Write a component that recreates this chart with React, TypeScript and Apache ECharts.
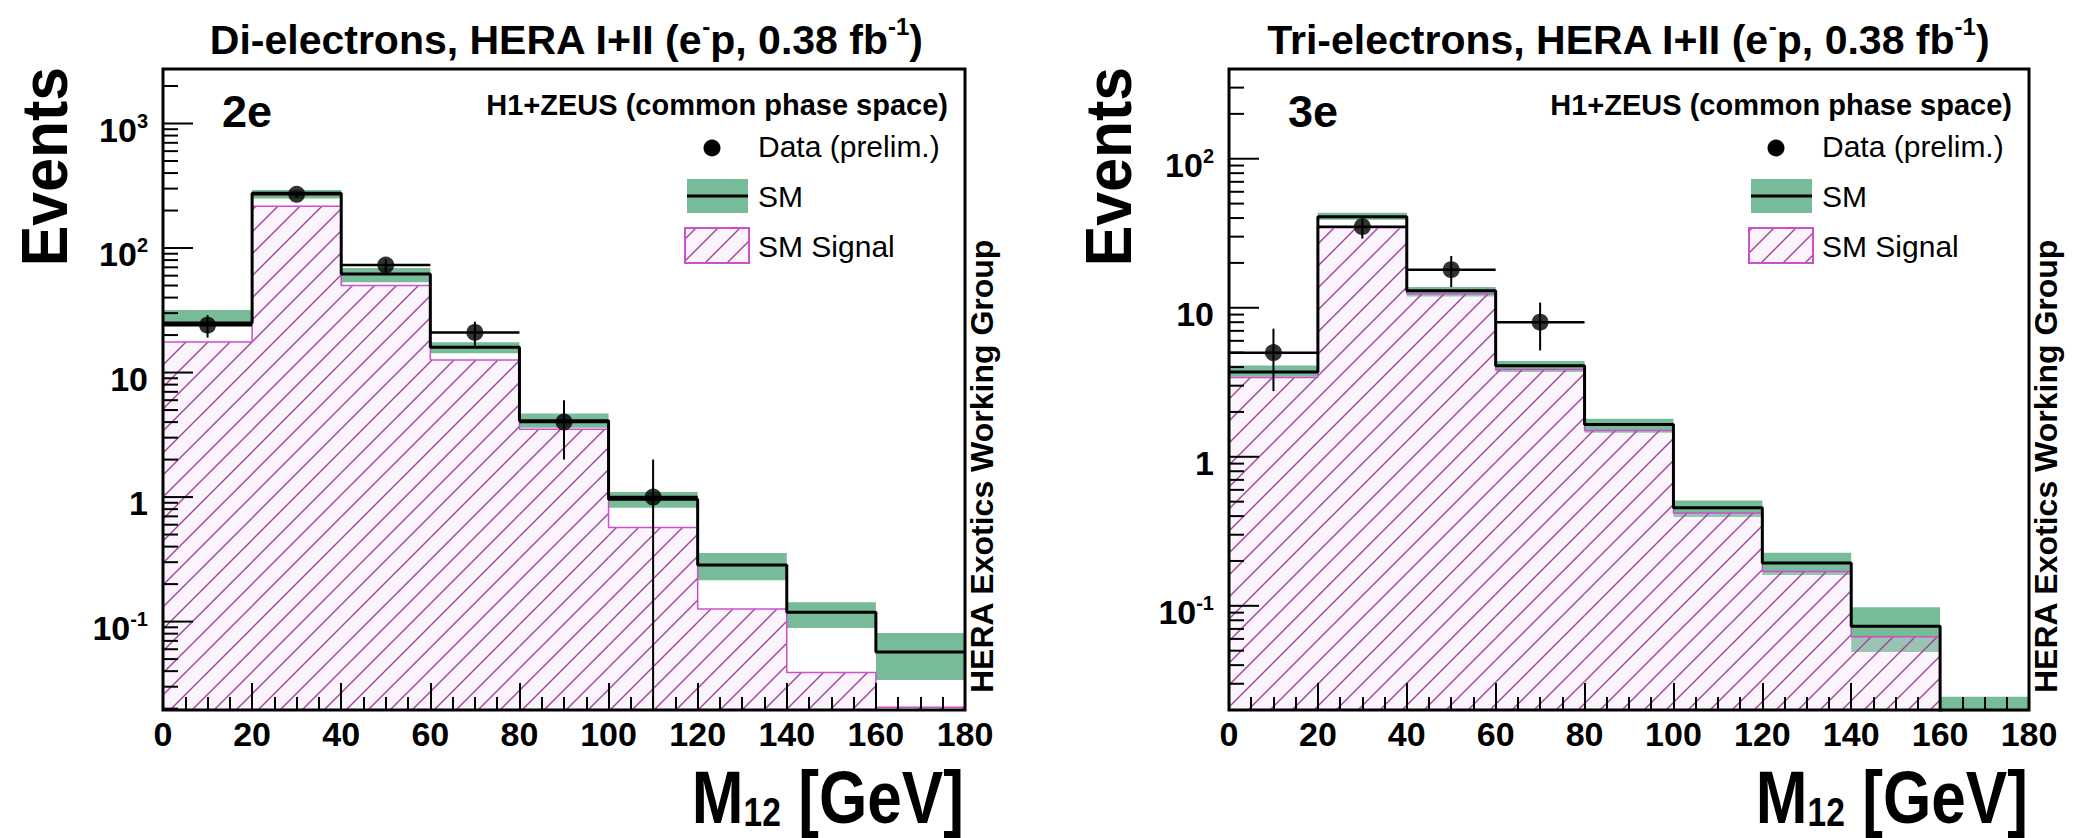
import React, { useEffect, useRef } from "react";
import * as echarts from "echarts";

const FONT = "'Liberation Sans', Arial, Helvetica, sans-serif";

// ---- bins (M12 in GeV) ----
const binLow = [0, 20, 40, 60, 80, 100, 120, 140, 160];
const binWidth = 20;
const xMax = 180;

// ---- Di-electrons (2e) ----
const sm2e = [25, 275, 62, 16, 4.1, 0.96, 0.285, 0.119, 0.057];
const smLow2e = [23.6, 250, 53, 14.3, 3.6, 0.82, 0.215, 0.089, 0.034];
const smHigh2e = [31.8, 292, 69, 17.5, 4.7, 1.1, 0.355, 0.143, 0.081];
const signal2e = [17.6, 217, 50, 12.6, 3.5, 0.57, 0.126, 0.039, 0.0205];
const data2e = [24, 270, 73, 21, 4, 1];
const dataLow2e = [19.1, 253.6, 64.5, 16.4, 2, 0];
const dataHigh2e = [28.9, 286.4, 81.5, 25.6, 6, 2];

// ---- Tri-electrons (3e) ----
const sm3e = [3.7, 40.8, 13.0, 4.08, 1.65, 0.455, 0.194, 0.073, 0.019];
const smLow3e = [3.45, 38.9, 11.9, 3.7, 1.45, 0.395, 0.161, 0.049, 0.015];
const smHigh3e = [4.1, 43.4, 13.8, 4.4, 1.8, 0.51, 0.227, 0.098, 0.0245];
const signal3e = [3.4, 34.4, 12.4, 3.85, 1.5, 0.42, 0.17, 0.062, 0.018];
const data3e = [5, 35, 18, 8];
const dataLow3e = [2.76, 29.1, 13.76, 5.17];
const dataHigh3e = [7.24, 40.9, 22.24, 10.83];

// ---- y tick labels (decade exponent -> label) ----
const decadeLabels: Record<string, string> = {
  "-1": "{b|10}{s|-1}",
  "0": "{b|1}",
  "1": "{b|10}",
  "2": "{b|10}{s|2}",
  "3": "{b|10}{s|3}",
};

const GREEN = "#78bb98";
const HATCH = "#9c469c";
const PINK = "#cc4fcc";
const TINT = "rgba(245,215,245,0.28)";

const panels = [
  {
    left: 163, width: 802, yMin: 0.0195, yMax: 2740,
    titleX: 566, tag: "2e",
    titleText: "{t|Di-electrons, HERA I+II (e}{s|-}{t|p, 0.38 fb}{s|-1}{t|)}",
    sm: sm2e, smLow: smLow2e, smHigh: smHigh2e, signal: signal2e,
    data: data2e, dataLow: dataLow2e, dataHigh: dataHigh2e,
    eventsX: 44.5,
  },
  {
    left: 1229, width: 800, yMin: 0.02, yMax: 400,
    titleX: 1628, tag: "3e",
    titleText: "{t|Tri-electrons, HERA I+II (e}{s|-}{t|p, 0.38 fb}{s|-1}{t|)}",
    sm: sm3e, smLow: smLow3e, smHigh: smHigh3e, signal: signal3e,
    data: data3e, dataLow: dataLow3e, dataHigh: dataHigh3e,
    eventsX: 1108.5,
  },
];

const GRID_TOP = 69;
const GRID_H = 641;

function hatchSegments(x0: number, y0: number, x1: number, y1: number, sp: number) {
  const segs: any[] = [];
  const cStart = Math.ceil((x0 + y0) / sp) * sp;
  for (let c = cStart; c <= x1 + y1; c += sp) {
    const xa = Math.max(x0, c - y1);
    const xb = Math.min(x1, c - y0);
    if (xb - xa > 0.5) segs.push({ x1: xa, y1: c - xa, x2: xb, y2: c - xb });
  }
  return segs;
}

function stepData(values: number[]) {
  const pts = binLow.map((x, k) => [x, values[k]]);
  pts.push([xMax, values[values.length - 1]]);
  return pts;
}

function yTickValues(min: number, max: number) {
  const out: number[][] = [];
  for (let e = -2; e <= 3; e++) {
    for (let m = 1; m <= 9; m++) {
      const v = m * Math.pow(10, e);
      if (v > min * 1.0001 && v < max * 0.9999) out.push([0, v, m === 1 ? 1 : 0]);
    }
  }
  return out;
}

function clampY(y: number, cs: any) {
  return Math.max(cs.y, Math.min(cs.y + cs.height, y));
}

const bandRender = (params: any, api: any) => {
  const cs = params.coordSys;
  const a = api.coord([api.value(0), api.value(3)]);
  const b = api.coord([api.value(1), api.value(2)]);
  const y0 = clampY(a[1], cs);
  const y1 = clampY(b[1], cs);
  if (y1 - y0 < 0.5) return { type: "group", children: [] };
  return {
    type: "rect",
    shape: { x: a[0], y: y0, width: b[0] - a[0], height: y1 - y0 },
    style: { fill: GREEN },
  };
};

const hatchRender = (params: any, api: any) => {
  const cs = params.coordSys;
  const a = api.coord([api.value(0), api.value(2)]);
  const b = api.coord([api.value(1), api.value(2)]);
  const bottom = cs.y + cs.height;
  const top = clampY(a[1], cs);
  if (bottom - top < 0.5) return { type: "group", children: [] };
  const children: any[] = [
    { type: "rect", shape: { x: a[0], y: top, width: b[0] - a[0], height: bottom - top }, style: { fill: TINT } },
  ];
  hatchSegments(a[0], top, b[0], bottom, 22).forEach((s) =>
    children.push({ type: "line", shape: s, style: { stroke: HATCH, lineWidth: 1.4 } })
  );
  return { type: "group", children };
};

const errRender = (params: any, api: any) => {
  const cs = params.coordSys;
  const x = api.value(0);
  const v = api.value(1);
  const lo = api.value(2);
  const hi = api.value(3);
  const c = api.coord([x, v]);
  const yHi = clampY(api.coord([x, hi])[1], cs);
  const yLo = lo > 0 ? clampY(api.coord([x, lo])[1], cs) : cs.y + cs.height;
  const xl = api.coord([x - binWidth / 2, v])[0];
  const xr = api.coord([x + binWidth / 2, v])[0];
  return {
    type: "group",
    children: [
      { type: "line", shape: { x1: c[0], y1: yHi, x2: c[0], y2: yLo }, style: { stroke: "#000", lineWidth: 2 } },
      { type: "line", shape: { x1: xl, y1: c[1], x2: xr, y2: c[1] }, style: { stroke: "#000", lineWidth: 2.5 } },
    ],
  };
};

const tickRender = (params: any, api: any) => {
  const cs = params.coordSys;
  const p = api.coord([0, api.value(1)]);
  const len = api.value(2) ? 30 : 15;
  return {
    type: "line",
    shape: { x1: cs.x, y1: p[1], x2: cs.x + len, y2: p[1] },
    style: { stroke: "#000", lineWidth: 2 },
  };
};

function text(x: number, y: number, str: string, o: any = {}) {
  const align = o.align || "left";
  return {
    type: "text",
    x, y,
    rotation: o.rotation || 0,
    scaleX: o.scaleX || 1,
    z: 20,
    silent: true,
    style: {
      text: str,
      fill: "#000",
      fontSize: o.fontSize || 30,
      fontWeight: o.fontWeight || "normal",
      fontFamily: FONT,
      align, verticalAlign: "middle",
      textAlign: align, textVerticalAlign: "middle",
      rich: o.rich,
    },
  };
}

function buildOption() {
  const series: any[] = [];
  const graphics: any[] = [];

  panels.forEach((p, i) => {
    const common = { xAxisIndex: i, yAxisIndex: i, silent: true, animation: false };
    series.push({
      ...common, type: "custom", name: "SM band", z: 2, encode: { x: [0, 1], y: [2, 3] },
      data: binLow.map((x, k) => [x, x + binWidth, p.smLow[k], p.smHigh[k]]),
      renderItem: bandRender,
    });
    series.push({
      ...common, type: "custom", name: "SM Signal", z: 3, encode: { x: [0, 1], y: 2 },
      data: binLow.map((x, k) => [x, x + binWidth, p.signal[k]]),
      renderItem: hatchRender,
    });
    series.push({
      ...common, type: "line", name: "SM Signal outline", z: 4, step: "end", symbol: "none", clip: true,
      data: stepData(p.signal), lineStyle: { color: PINK, width: 1.5 },
    });
    series.push({
      ...common, type: "line", name: "SM", z: 5, step: "end", symbol: "none", clip: true,
      data: stepData(p.sm), lineStyle: { color: "#000", width: 3 },
    });
    series.push({
      ...common, type: "custom", name: "Data errors", z: 6, encode: { x: 0, y: 1 },
      data: p.data.map((v, k) => [binLow[k] + binWidth / 2, v, p.dataLow[k], p.dataHigh[k]]),
      renderItem: errRender,
    });
    series.push({
      ...common, type: "scatter", name: "Data (prelim.)", z: 7, symbol: "circle", symbolSize: 17,
      itemStyle: { color: "#000" },
      data: p.data.map((v, k) => [binLow[k] + binWidth / 2, v]),
    });
    series.push({
      ...common, type: "custom", name: "y ticks", z: 9, encode: { x: 0, y: 1 },
      data: yTickValues(p.yMin, p.yMax),
      renderItem: tickRender,
    });

    const R = p.left + p.width;
    const L = p.left;
    // titles & labels
    graphics.push(text(p.titleX, 40, p.titleText, {
      align: "center", fontWeight: "bold", fontSize: 41,
      rich: {
        t: { fontSize: 41, fontWeight: "bold", fontFamily: FONT, fill: "#000" },
        s: { fontSize: 24, fontWeight: "bold", fontFamily: FONT, fill: "#000", padding: [0, 0, 28, 0] },
      },
    }));
    graphics.push(text(L + 59, 111, p.tag, { fontSize: 45, fontWeight: "bold" }));
    graphics.push(text(R - 17, 104.5, "H1+ZEUS (common phase space)", { align: "right", fontSize: 29, fontWeight: "bold" }));
    graphics.push(text(R - 207, 146, "Data (prelim.)", { fontSize: 30 }));
    graphics.push(text(R - 207, 196, "SM", { fontSize: 30 }));
    graphics.push(text(R - 207, 246, "SM Signal", { fontSize: 30 }));
    graphics.push(text(p.eventsX, 166.5, "Events", { align: "center", fontSize: 64, fontWeight: "bold", rotation: Math.PI / 2, scaleX: 0.95 }));
    graphics.push(text(R + 16.5, 693, "HERA Exotics Working Group", { fontSize: 32, fontWeight: "bold", rotation: Math.PI / 2 }));
    graphics.push(text(R - 1, 797, "{m|M}{sub|12}{m| [GeV]}", {
      align: "right", fontSize: 74, fontWeight: "bold", scaleX: 0.84,
      rich: {
        m: { fontSize: 74, fontWeight: "bold", fontFamily: FONT, fill: "#000" },
        sub: { fontSize: 40, fontWeight: "bold", fontFamily: FONT, fill: "#000", padding: [30, 0, 0, 0] },
      },
    }));
    // legend symbols
    graphics.push({ type: "circle", z: 20, silent: true, shape: { cx: R - 253, cy: 148, r: 8.5 }, style: { fill: "#000" } });
    graphics.push({ type: "rect", z: 20, silent: true, shape: { x: R - 278, y: 179, width: 61, height: 34 }, style: { fill: GREEN } });
    graphics.push({ type: "line", z: 21, silent: true, shape: { x1: R - 278, y1: 196, x2: R - 217, y2: 196 }, style: { stroke: "#000", lineWidth: 3 } });
    graphics.push({ type: "rect", z: 20, silent: true, shape: { x: R - 280, y: 228, width: 64, height: 35 }, style: { fill: TINT, stroke: "none" } });
    hatchSegments(R - 280, 228, R - 216, 263, 22).forEach((s) =>
      graphics.push({ type: "line", z: 21, silent: true, shape: s, style: { stroke: HATCH, lineWidth: 1.4 } })
    );
    graphics.push({ type: "rect", z: 22, silent: true, shape: { x: R - 280, y: 228, width: 64, height: 35 }, style: { fill: "none", stroke: PINK, lineWidth: 2 } });
  });

  const yLabelFormatter = (v: number) => {
    const l = Math.log10(v);
    const r = Math.round(l);
    if (Math.abs(l - r) > 1e-6) return "";
    return decadeLabels[String(r)] || "";
  };

  return {
    animation: false,
    backgroundColor: "#fff",
    grid: panels.map((p) => ({
      left: p.left, top: GRID_TOP, width: p.width, height: GRID_H,
      show: true, borderColor: "#000", borderWidth: 3, backgroundColor: "transparent",
      z: 10, containLabel: false, outerBoundsMode: "none",
    })),
    xAxis: panels.map((p, i) => ({
      type: "value", gridIndex: i, min: 0, max: xMax, interval: 20, z: 10,
      axisLine: { show: false },
      axisTick: { show: true, inside: true, length: 27, lineStyle: { color: "#000", width: 2 } },
      minorTick: { show: true, splitNumber: 4, length: 13, lineStyle: { color: "#000", width: 2 } },
      splitLine: { show: false },
      minorSplitLine: { show: false },
      axisLabel: {
        show: true, margin: 7, color: "#000", fontSize: 34, fontWeight: "bold", fontFamily: FONT,
        showMinLabel: true, showMaxLabel: true, hideOverlap: false,
      },
    })),
    yAxis: panels.map((p, i) => ({
      type: "log", logBase: 10, gridIndex: i, min: p.yMin, max: p.yMax, splitNumber: 5, z: 10,
      axisLine: { show: false },
      axisTick: { show: false },
      minorTick: { show: false },
      splitLine: { show: false },
      axisLabel: {
        show: true, margin: 15, color: "#000", fontFamily: FONT, fontSize: 34, fontWeight: "bold",
        padding: [12, 0, 0, 0], showMinLabel: true, showMaxLabel: true, hideOverlap: false,
        formatter: yLabelFormatter,
        rich: {
          b: { fontSize: 34, fontWeight: "bold", fontFamily: FONT, color: "#000" },
          s: { fontSize: 20, fontWeight: "bold", fontFamily: FONT, color: "#000", padding: [0, 0, 18, 0] },
        },
      },
    })),
    series,
    graphic: { elements: graphics },
  };
}

export default function App() {
  const ref = useRef<HTMLDivElement>(null);
  useEffect(() => {
    if (!ref.current) return;
    const chart = echarts.init(ref.current, null, { renderer: "svg" });
    chart.setOption(buildOption() as any);
    return () => chart.dispose();
  }, []);
  return (
    <div
      ref={ref}
      style={{ position: "absolute", left: 0, top: 0, width: 2074, height: 838, background: "#fff" }}
    />
  );
}
